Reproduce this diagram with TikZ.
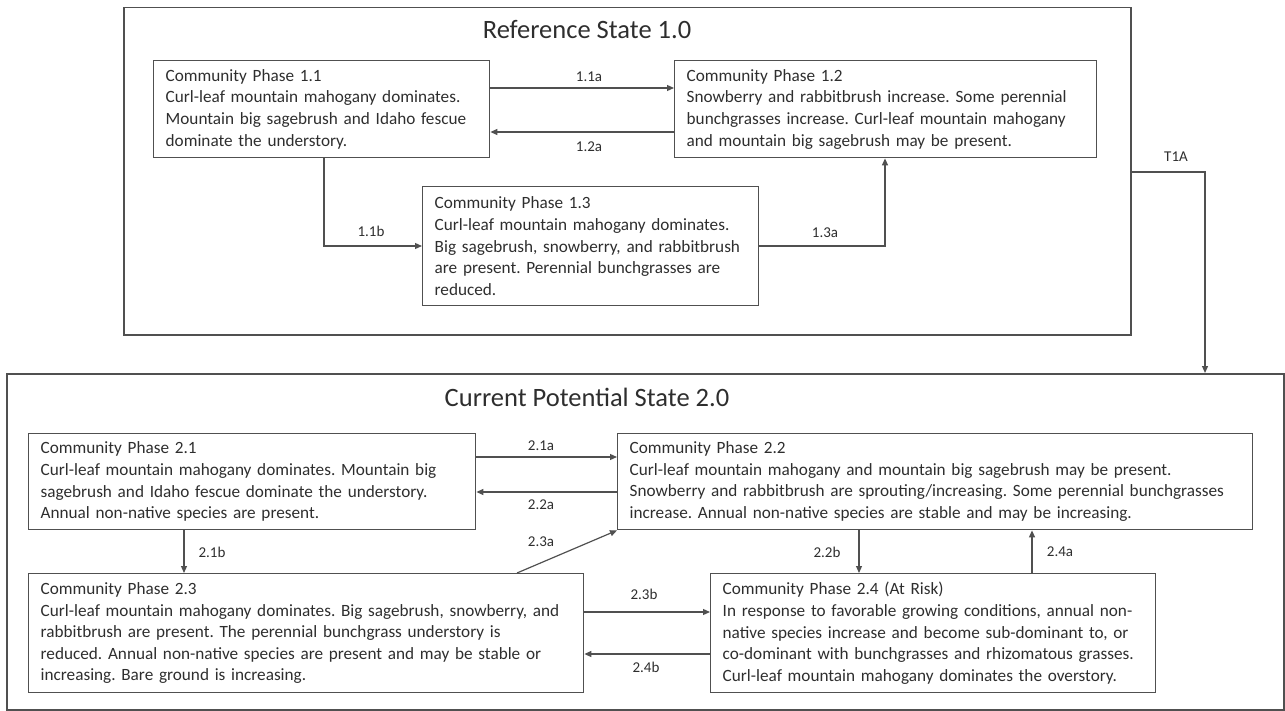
\documentclass[tikz,border=0pt]{standalone}
\usepackage{fontspec}
\setmainfont{Carlito}
\usetikzlibrary{arrows.meta}
\definecolor{txt}{HTML}{2E2E2E}
\definecolor{ln}{HTML}{505050}
\tikzset{
  statebox/.style={draw=ln, line width=1.5pt, anchor=north west, inner sep=0pt},
  phasebox/.style={draw=ln, line width=1.4pt, anchor=north west, inner xsep=12pt, inner ysep=4pt,
     align=left, font=\fontsize{17.2}{21.6}\selectfont, text=txt},
  stitle/.style={font=\fontsize{26.5}{30}\selectfont, text=txt},
  lbl/.style={font=\fontsize{15}{17}\selectfont, text=txt},
  arr/.style={draw=ln, line width=1.2pt, -{Triangle[length=7pt,width=6pt]}},
}
\frenchspacing
\begin{document}
\begin{tikzpicture}[x=1pt,y=-1pt]
\useasboundingbox (0,0) rectangle (1285,711);
% state containers
\node[statebox, minimum width=1007pt, minimum height=327pt] (s1) at (123,7) {};
\node[statebox, minimum width=1277pt, minimum height=336pt] (s2) at (6,373) {};
\node[stitle] (t1) at (587,30) {Reference State 1.0};
\node[stitle] (t2) at (587,397) {Current Potential State 2.0};
% phases of state 1
\node[phasebox, minimum width=336pt, minimum height=97pt, text width=312pt] (b11) at (153,60)
 {Community Phase 1.1\\Curl-leaf mountain mahogany dominates.\\Mountain big sagebrush and Idaho fescue\\dominate the understory.};
\node[phasebox, minimum width=422pt, minimum height=97pt, text width=398pt] (b12) at (674,60)
 {Community Phase 1.2\\Snowberry and rabbitbrush increase. Some perennial\\bunchgrasses increase. Curl-leaf mountain mahogany\\and mountain big sagebrush may be present.};
\node[phasebox, minimum width=336pt, minimum height=119pt, text width=312pt] (b13) at (422,186)
 {Community Phase 1.3\\Curl-leaf mountain mahogany dominates.\\Big sagebrush, snowberry, and rabbitbrush\\are present. Perennial bunchgrasses are\\reduced.};
% phases of state 2
\node[phasebox, minimum width=447pt, minimum height=96pt, text width=423pt] (b21) at (28,433)
 {Community Phase 2.1\\Curl-leaf mountain mahogany dominates. Mountain big\\sagebrush and Idaho fescue dominate the understory.\\Annual non-native species are present.};
\node[phasebox, minimum width=635pt, minimum height=96pt, text width=611pt] (b22) at (617,433)
 {Community Phase 2.2\\Curl-leaf mountain mahogany and mountain big sagebrush may be present.\\Snowberry and rabbitbrush are sprouting/increasing. Some perennial bunchgrasses\\increase. Annual non-native species are stable and may be increasing.};
\node[phasebox, minimum width=555pt, minimum height=119pt, text width=531pt] (b23) at (28,573)
 {Community Phase 2.3\\Curl-leaf mountain mahogany dominates. Big sagebrush, snowberry, and\\rabbitbrush are present. The perennial bunchgrass understory is\\reduced. Annual non-native species are present and may be stable or\\increasing. Bare ground is increasing.};
\node[phasebox, minimum width=445pt, minimum height=119pt, text width=421pt] (b24) at (710,573)
 {Community Phase 2.4 (At Risk)\\In response to favorable growing conditions, annual non-\\native species increase and become sub-dominant to, or\\co-dominant with bunchgrasses and rhizomatous grasses.\\Curl-leaf mountain mahogany dominates the overstory.};
% connectors state 1
\draw[arr] (b11.east |- 0,88) -- (b12.west |- 0,88);
\draw[arr] (b12.west |- 0,132) -- (b11.east |- 0,132);
\draw[arr] (b11.south -| 324,0) |- (b13.west |- 0,246);
\draw[arr] (b13.east |- 0,246) -| (b12.south -| 885,0);
\draw[arr] (s1.east |- 0,172) -| (s2.north -| 1205,0);
% connectors state 2
\draw[arr] (b21.east |- 0,457) -- (b22.west |- 0,457);
\draw[arr] (b22.west |- 0,492) -- (b21.east |- 0,492);
\draw[arr] (b21.south -| 184,0) -- (b23.north -| 184,0);
\draw[arr] (b23.north -| 517,0) -- (b22.south west);
\draw[arr] (b23.east |- 0,612) -- (b24.west |- 0,612);
\draw[arr] (b24.west |- 0,654) -- (b23.east |- 0,654);
\draw[arr] (b22.south -| 859,0) -- (b24.north -| 859,0);
\draw[arr] (b24.north -| 1032,0) -- (b22.south -| 1032,0);
% labels
\node[lbl] (l11a) at (589,77) {1.1a};
\node[lbl] (l12a) at (589,147) {1.2a};
\node[lbl] (l11b) at (371,231) {1.1b};
\node[lbl] (l13a) at (825,233) {1.3a};
\node[lbl] (lt1a) at (1176,157) {T1A};
\node[lbl] (l21a) at (541,446) {2.1a};
\node[lbl] (l22a) at (541,505) {2.2a};
\node[lbl] (l23a) at (541,542) {2.3a};
\node[lbl] (l21b) at (212,552) {2.1b};
\node[lbl] (l22b) at (827,552) {2.2b};
\node[lbl] (l24a) at (1060,552) {2.4a};
\node[lbl] (l23b) at (644,594) {2.3b};
\node[lbl] (l24b) at (646,667) {2.4b};
\end{tikzpicture}
\end{document}
